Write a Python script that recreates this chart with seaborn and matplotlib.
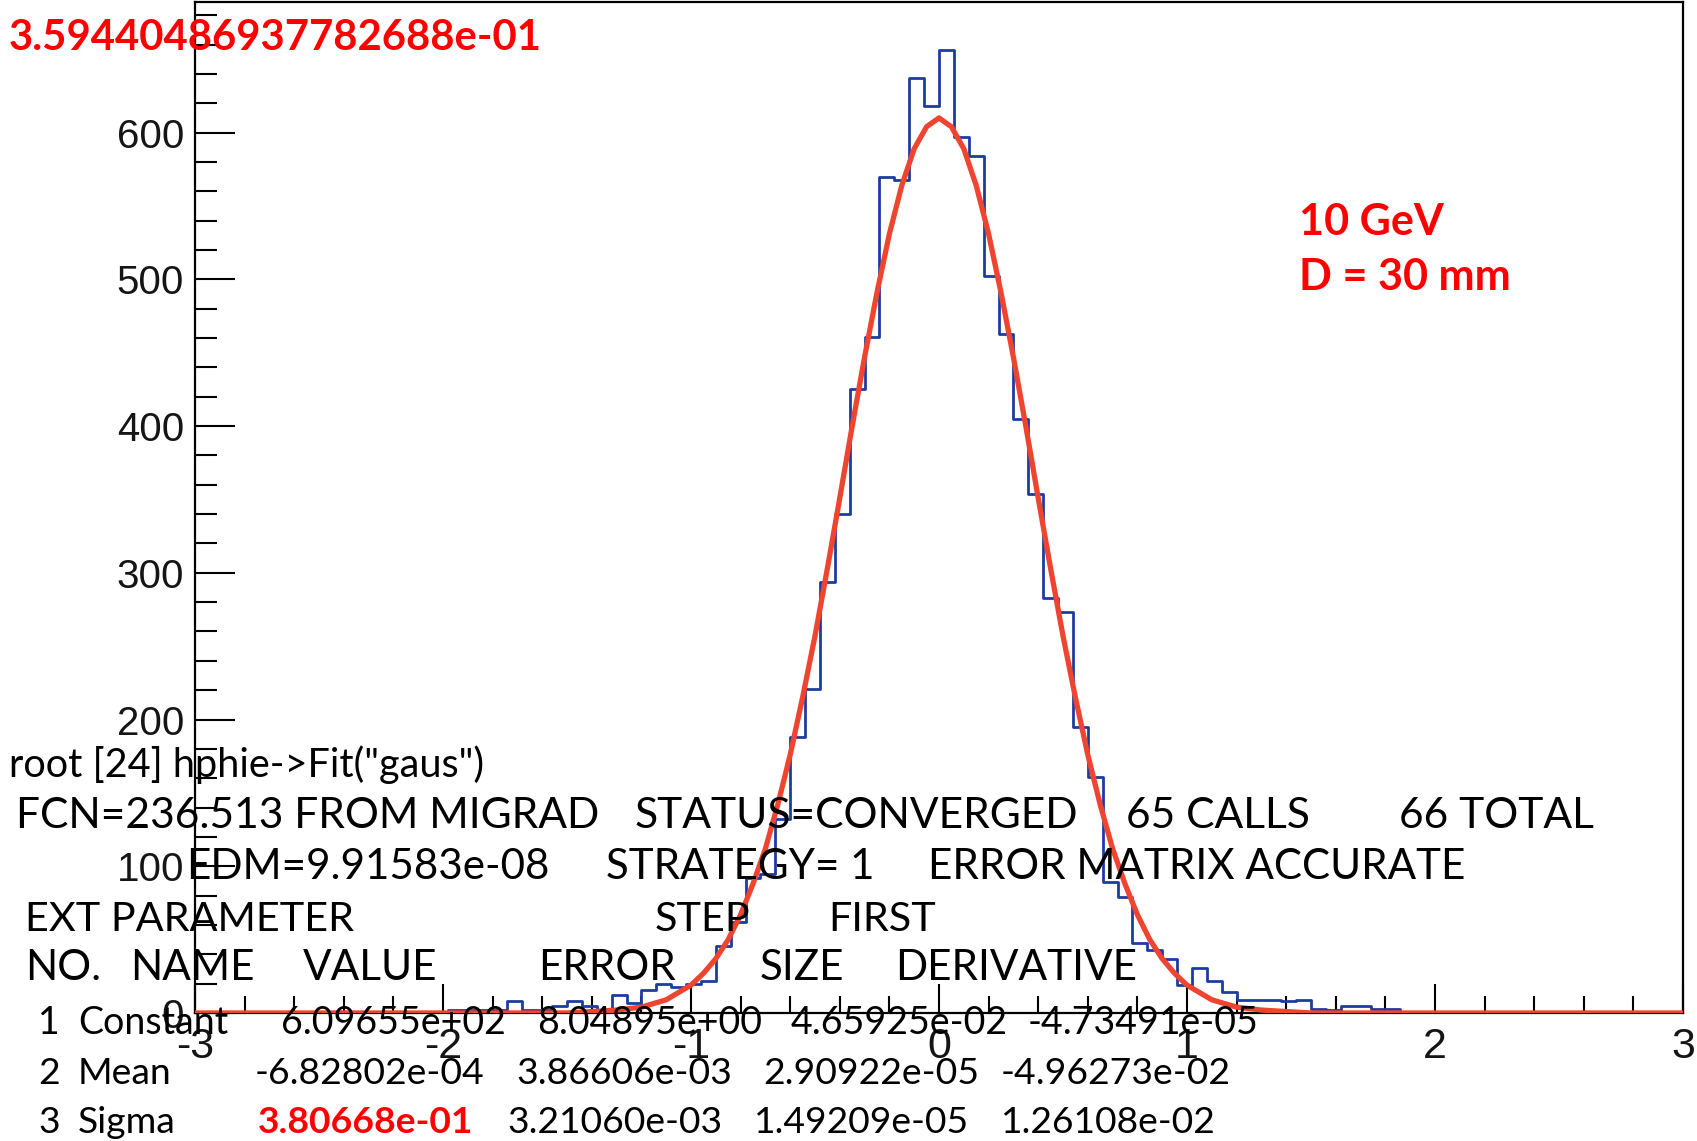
import numpy as np
import pandas as pd
import matplotlib
matplotlib.use("Agg")
import matplotlib.pyplot as plt
import seaborn as sns
from matplotlib.ticker import FixedLocator, FixedFormatter

# ---------------- data ----------------
x_min, x_max, n_bins = -3.0, 3.0, 100
counts = [0, 0, 0, 0, 0, 0, 0, 0, 0, 0, 0, 0, 0, 0, 0, 0, 0,
          2, 2, 2, 2, 8, 2, 2, 5, 8, 5, 2, 12, 7, 16, 20, 18, 20, 22,
          46, 62, 92, 95, 132, 188, 221, 294, 340, 425, 461, 570, 568, 637, 618,
          656, 597, 584, 502, 463, 405, 354, 283, 273, 195, 161, 89, 79, 48, 43,
          37, 19, 31, 22, 14, 9, 9, 9, 8, 9, 3, 2, 5, 5, 3, 3,
          0, 0, 0, 0, 0, 0, 0, 0, 0, 0, 0, 0, 0, 0, 0, 0, 0, 0, 0]

fit_x = [-3.0, -1.5, -1.4, -1.3, -1.2, -1.1, -1.05, -1.0, -0.95, -0.9, -0.85, -0.8,
         -0.75, -0.7, -0.65, -0.6, -0.55, -0.5, -0.45, -0.4, -0.35, -0.3, -0.25,
         -0.2, -0.15, -0.1, -0.05, 0.0, 0.05, 0.1, 0.15, 0.2, 0.25, 0.3, 0.35, 0.4,
         0.45, 0.5, 0.55, 0.6, 0.65, 0.7, 0.75, 0.8, 0.85, 0.9, 0.95, 1.0, 1.05,
         1.1, 1.2, 1.3, 1.4, 1.5, 3.0]
fit_y = [0, 0, 1, 2, 4, 9, 14, 19, 27, 37, 50, 67,
         88, 112, 142, 176, 215, 257, 303, 351, 400, 447, 491,
         531, 564, 589, 604, 610, 604, 589, 564, 531, 491, 447, 400, 351,
         303, 257, 215, 176, 142, 112, 88, 67, 50, 37, 27, 19, 14,
         9, 4, 2, 1, 0, 0]

y_major = [0, 100, 200, 300, 400, 500, 600]
y_labels = ["0", "100", "200", "300", "400", "500", "600"]
x_major = [-3, -2, -1, 0, 1, 2, 3]
x_labels = ["-3", "-2", "-1", "0", "1", "2", "3"]
y_top = 689

# ---------------- figure ----------------
W, H, DPI = 1697, 1141, 100
fig = plt.figure(figsize=(W / DPI, H / DPI), dpi=DPI)
fig.patch.set_facecolor("white")
ax = fig.add_axes([195 / W, 1 - 1013 / H, (1683 - 195) / W, (1013 - 2) / H])

edges = np.linspace(x_min, x_max, n_bins + 1)
hist_df = pd.DataFrame({"x": (edges[:-1] + edges[1:]) / 2, "w": counts})
sns.histplot(data=hist_df, x="x", weights="w", bins=list(edges), element="step",
             fill=False, color="#1d3ca0", linewidth=2.0, ax=ax, zorder=2)
fit_df = pd.DataFrame({"x": fit_x, "y": fit_y})
sns.lineplot(data=fit_df, x="x", y="y", color="#ee4430", linewidth=3.8, ax=ax,
             estimator=None, sort=False, zorder=3)

ax.set_xlim(x_min, x_max)
ax.set_ylim(0, y_top)
ax.set_xlabel("")
ax.set_ylabel("")
for s in ax.spines.values():
    s.set_linewidth(1.6)
    s.set_color("black")

ax.yaxis.set_major_locator(FixedLocator(y_major))
ax.yaxis.set_major_formatter(FixedFormatter(y_labels))
ax.yaxis.set_minor_locator(FixedLocator(list(range(0, 681, 20))))
ax.xaxis.set_major_locator(FixedLocator(x_major))
ax.xaxis.set_major_formatter(FixedFormatter(x_labels))
ax.xaxis.set_minor_locator(FixedLocator([round(-3 + 0.2 * i, 2) for i in range(31)]))

ax.tick_params(axis="y", which="major", direction="in", length=29, width=1.5,
               pad=8, labelsize=29, right=False, colors="black")
ax.tick_params(axis="y", which="minor", direction="in", length=16, width=1.5, right=False)
ax.tick_params(axis="x", which="major", direction="in", length=21, width=1.5,
               pad=10, labelsize=31, top=False)
ax.tick_params(axis="x", which="minor", direction="in", length=12, width=1.5, top=False)
for lab in ax.get_xticklabels() + ax.get_yticklabels():
    lab.set_family(["Liberation Sans", "DejaVu Sans"])
    lab.set_color("#151515")

# ---------------- overlaid text ----------------
renderer = fig.canvas.get_renderer()
FAM = ["Lato", "DejaVu Sans"]


def size_for(s, width_px, weight):
    t = fig.text(0, 0, s, fontsize=20, fontweight=weight, family=FAM)
    w = t.get_window_extent(renderer).width
    t.remove()
    return 20.0 * width_px / w


def put_line(segments, baseline, size_ref=None):
    # segments: (text, x_left, x_right, weight, color)
    if size_ref is None:
        i = max(range(len(segments)), key=lambda k: segments[k][2] - segments[k][1])
        size_ref = segments[i]
    s, x0, x1, wt, c = size_ref
    size = size_for(s, x1 - x0, wt)
    for s, x0, x1, wt, c in segments:
        fig.text(x0 / W, 1 - baseline / H, s, fontsize=size, fontweight=wt,
                 family=FAM, color=c, va="baseline", ha="left", zorder=10)


K, R = "black", "#ff0000"
put_line([("3.59440486937782688e-01", 9, 543, "bold", R)], 50)
put_line([("10 GeV", 1299, 1439, "bold", R)], 235,
         size_ref=("D = 30 mm", 1299, 1510, "bold", R))
put_line([("D = 30 mm", 1299, 1510, "bold", R)], 290)
put_line([('root [24] hphie->Fit("gaus")', 9, 485, "normal", K)], 777)
put_line([("FCN=236.513 FROM MIGRAD", 16, 599, "normal", K),
          ("STATUS=CONVERGED", 635, 1071, "normal", K),
          ("65 CALLS", 1126, 1312, "normal", K),
          ("66 TOTAL", 1399, 1600, "normal", K)], 828)
put_line([("EDM=9.91583e-08", 186, 570, "normal", K),
          ("STRATEGY= 1", 606, 871, "normal", K),
          ("ERROR MATRIX ACCURATE", 928, 1464, "normal", K)], 879)
put_line([("EXT PARAMETER", 25, 354, "normal", K),
          ("STEP", 655, 750, "normal", K),
          ("FIRST", 828, 939, "normal", K)], 931)
put_line([("NO.", 25, 100, "normal", K), ("NAME", 130, 251, "normal", K),
          ("VALUE", 303, 433, "normal", K), ("ERROR", 538, 673, "normal", K),
          ("SIZE", 760, 842, "normal", K), ("DERIVATIVE", 895, 1136, "normal", K)], 980)
put_line([("1", 38, 54, "normal", K), ("Constant", 78, 231, "normal", K),
          ("6.09655e+02", 281, 504, "normal", K), ("8.04895e+00", 537, 761, "normal", K),
          ("4.65925e-02", 791, 1008, "normal", K), ("-4.73491e-05", 1028, 1259, "normal", K)], 1034)
put_line([("2", 38, 54, "normal", K), ("Mean", 78, 175, "normal", K),
          ("-6.82802e-04", 255, 484, "normal", K), ("3.86606e-03", 516, 732, "normal", K),
          ("2.90922e-05", 763, 979, "normal", K), ("-4.96273e-02", 1001, 1231, "normal", K)], 1084)
put_line([("3", 38, 54, "normal", K), ("Sigma", 78, 180, "normal", K),
          ("3.21060e-03", 507, 722, "normal", K),
          ("1.49209e-05", 754, 965, "normal", K), ("1.26108e-02", 1001, 1216, "normal", K)], 1133,
         size_ref=("3.21060e-03", 507, 722, "normal", K))
put_line([("3.80668e-01", 258, 474, "bold", R)], 1133)

fig.savefig("out.png", dpi=DPI, facecolor="white")
